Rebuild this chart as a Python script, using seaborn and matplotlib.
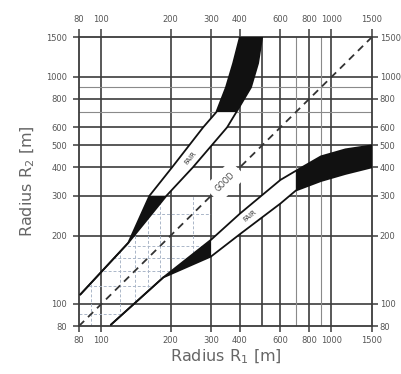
import matplotlib
matplotlib.use("Agg")
import matplotlib.pyplot as plt
from matplotlib.patches import Polygon
from matplotlib.ticker import NullLocator
import seaborn as sns
import pandas as pd

# axis ticks
x_ticks = [80, 100, 200, 300, 400, 600, 800, 1000, 1500]
y_ticks = [80, 100, 200, 300, 400, 500, 600, 800, 1000, 1500]

# grid lines
grid_major = [100, 200, 300, 400, 500, 600, 800, 1000]
grid_light = [700, 900]
grid_faint = [90, 120, 140, 160, 180, 250]
faint_limit = 300

# upper band: R1 of its two edges at given R2 (lower band is the mirror image)
band_r2 = [110, 186, 300, 400, 600, 700, 900, 1150, 1500]
band_left_r1 = [81, 131, 162, 203, 277, 316, 348, 374, 400]
band_right_r1 = [81, 131, 192, 250, 352, 386, 447, 480, 500]
fair_from, fair_to = 300, 700

good_line = [80, 1500]
good_label = 345
fair_label = (245, 440)

grid_c = "#3c3c3c"
text_c = "#555555"


def draw_band(ax, r1_left, r1_right, r2, mirror=False):
    xs = list(r1_left) + list(r1_right)[::-1]
    ys = list(r2) + list(r2)[::-1]
    idx = [i for i, v in enumerate(r2) if fair_from <= v <= fair_to]
    wx = [r1_left[i] for i in idx] + [r1_right[i] for i in idx][::-1]
    wy = [r2[i] for i in idx] + [r2[i] for i in idx][::-1]
    if mirror:
        xs, ys, wx, wy = ys, xs, wy, wx
    ax.fill(xs, ys, color="#111111", lw=0, zorder=3)
    ax.fill(wx, wy, color="white", lw=0, zorder=4)
    for edge in (r1_left, r1_right):
        df = pd.DataFrame({"r1": edge, "r2": r2})
        if mirror:
            df = df.rename(columns={"r1": "r2", "r2": "r1"})
        sns.lineplot(data=df, x="r1", y="r2", sort=False, estimator=None,
                     color="#111111", lw=1.3, ax=ax, zorder=5)


sns.set_theme(style="white")
plt.rcParams["font.family"] = ["DejaVu Sans"]

fig = plt.figure(figsize=(4.01, 3.74), dpi=100)
ax = fig.add_axes([79 / 401, 48 / 374, 293 / 401, 289 / 374])
ax.set_xscale("log")
ax.set_yscale("log")
ax.set_xlim(80, 1500)
ax.set_ylim(80, 1500)

for v in grid_major:
    ax.axvline(v, color=grid_c, lw=1.2, zorder=1)
    ax.axhline(v, color=grid_c, lw=1.2, zorder=1)
for v in grid_light:
    ax.axvline(v, color="#8a8a8a", lw=0.8, zorder=1)
    ax.axhline(v, color="#8a8a8a", lw=0.8, zorder=1)

# faint helper grid only in the corridor between the two bands
low_edge = [(r2, r1) for r1, r2 in zip(band_left_r1, band_r2) if r2 <= faint_limit]
up_edge = [(r1, r2) for r1, r2 in zip(band_left_r1, band_r2) if r2 <= faint_limit]
corridor = Polygon([(80, 80)] + low_edge + [(faint_limit, faint_limit)] + up_edge[::-1],
                   closed=True, transform=ax.transData, visible=False)
ax.add_patch(corridor)
vl = ax.vlines(grid_faint, 80, faint_limit, color="#aab6c8", lw=0.7,
               linestyles=(0, (3, 2)), zorder=1)
hl = ax.hlines(grid_faint, 80, faint_limit, color="#aab6c8", lw=0.7,
               linestyles=(0, (3, 2)), zorder=1)
vl.set_clip_path(corridor)
hl.set_clip_path(corridor)

draw_band(ax, band_left_r1, band_right_r1, band_r2)
draw_band(ax, band_left_r1, band_right_r1, band_r2, mirror=True)

sns.lineplot(x=good_line, y=good_line, color="#333333", lw=1.3,
             ax=ax, zorder=2).lines[-1].set_dashes((4, 3))

ax.text(good_label, good_label, "GOOD", rotation=45, rotation_mode="anchor",
        ha="center", va="center", fontsize=5.5, color="#444444", zorder=6,
        bbox=dict(fc="white", ec="none", pad=5))
ax.text(fair_label[0], fair_label[1], "FAIR", rotation=51, rotation_mode="anchor",
        ha="center", va="center", fontsize=5, color="#333333", zorder=6)
ax.text(fair_label[1], fair_label[0], "FAIR", rotation=39, rotation_mode="anchor",
        ha="center", va="center", fontsize=5, color="#333333", zorder=6)

for sp in ax.spines.values():
    sp.set_visible(True)
    sp.set_color(grid_c)
    sp.set_linewidth(1.3)

ax.set_xticks(x_ticks, labels=[str(v) for v in x_ticks])
ax.set_yticks(y_ticks, labels=[str(v) for v in y_ticks])
ax.xaxis.set_minor_locator(NullLocator())
ax.yaxis.set_minor_locator(NullLocator())
ax.tick_params(axis="x", direction="out", length=4.5, width=1.1, color=grid_c,
               pad=2.5, labelsize=6, labelcolor=text_c, bottom=True, top=False)
ax.tick_params(axis="y", direction="out", length=4.5, width=1.1, color=grid_c,
               pad=4, labelsize=6, labelcolor=text_c, left=True, right=False)

top = ax.secondary_xaxis("top")
top.set_xticks(x_ticks, labels=[str(v) for v in x_ticks])
top.xaxis.set_minor_locator(NullLocator())
top.tick_params(direction="out", length=6, width=1.1, color=grid_c, pad=3.5,
                labelsize=6, labelcolor=text_c)
top.spines["top"].set_visible(False)

right = ax.secondary_yaxis("right")
right.set_yticks(y_ticks, labels=[str(v) for v in y_ticks])
right.yaxis.set_minor_locator(NullLocator())
right.tick_params(direction="out", length=4, width=1.1, color=grid_c, pad=1.5,
                  labelsize=6, labelcolor=text_c)
right.spines["right"].set_visible(False)

ax.set_xlabel("Radius R$_1$ [m]", fontsize=11.5, color="#666666")
ax.set_ylabel("Radius R$_2$ [m]", fontsize=11.5, color="#666666")
ax.xaxis.set_label_coords(0.5, -0.075)
ax.yaxis.set_label_coords(-0.145, 0.5)

fig.savefig("out.png", dpi=100, facecolor="white")
